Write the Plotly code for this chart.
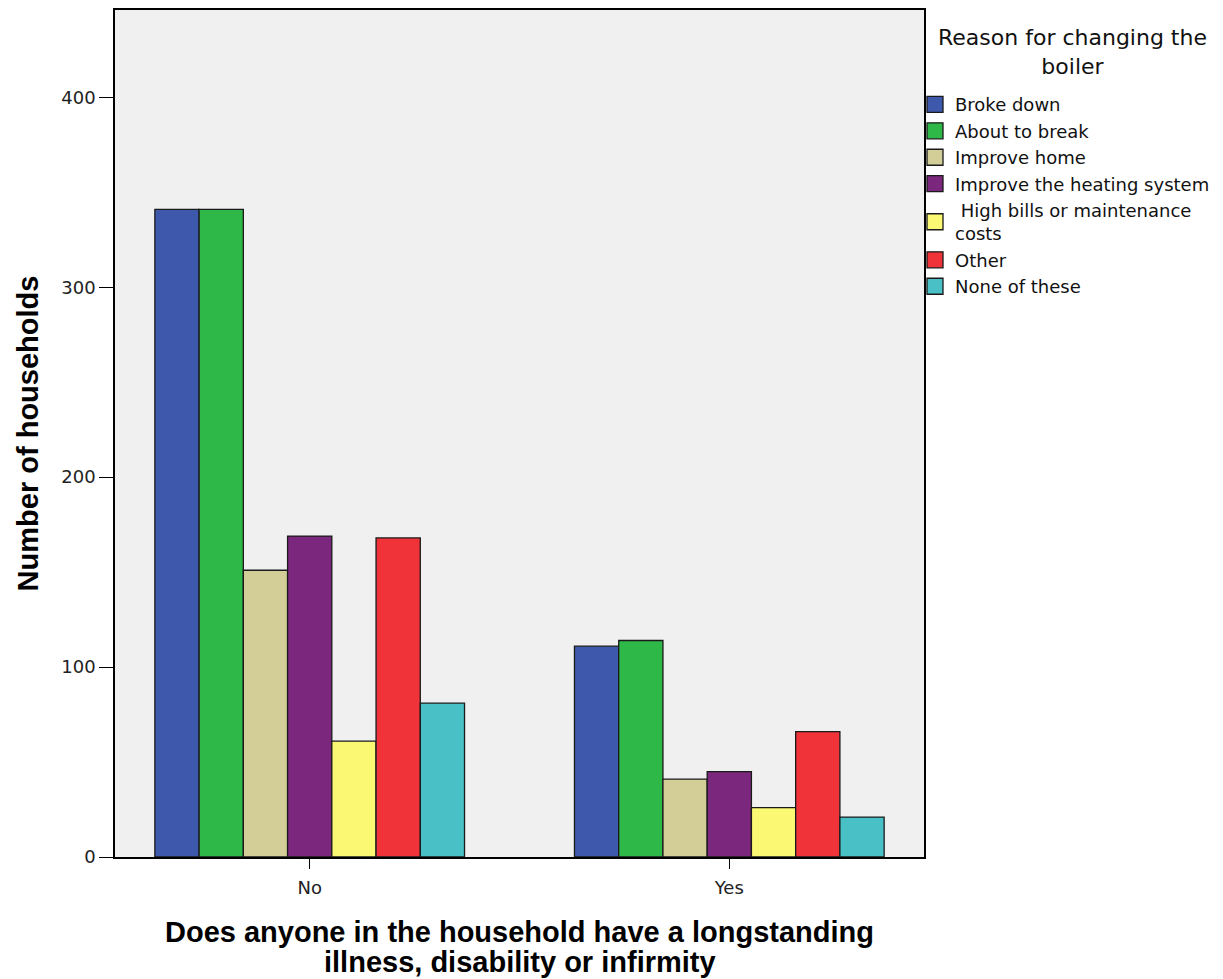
import plotly.graph_objects as go

categories = ["No", "Yes"]
series_names = ["Broke down", "About to break", "Improve home", "Improve the heating system",
                " High bills or maintenance<br>costs", "Other", "None of these"]
values_no = [341, 341, 151, 169, 61, 168, 81]
values_yes = [111, 114, 41, 45, 26, 66, 21]
colors = ["#3E58AC", "#2EB848", "#D3CE97", "#7B277D", "#FBF873", "#EF3338", "#48C0C5"]
y_ticks = [0, 100, 200, 300, 400]
legend_title = "Reason for changing the<br>boiler"
x_title_lines = ["Does anyone in the household have a longstanding", "illness, disability or infirmity"]
y_title = "Number of households"

fig = go.Figure()
for i, name in enumerate(series_names):
    fig.add_trace(go.Bar(
        x=categories, y=[values_no[i], values_yes[i]], name=name, showlegend=False,
        marker=dict(color=colors[i], line=dict(color="#1a1a1a", width=1.3)),
    ))
# legend entries (square swatches)
for i, name in enumerate(series_names):
    fig.add_trace(go.Scatter(
        x=[None], y=[None], mode="markers", name=name,
        marker=dict(symbol="square", size=16, color=colors[i], line=dict(color="#1a1a1a", width=1.3)),
    ))

fig.update_layout(
    width=1207, height=971,
    margin=dict(l=107, r=290, t=0, b=122),
    paper_bgcolor="white", plot_bgcolor="#F0F0F0",
    barmode="group", bargap=0.262, bargroupgap=0,
    font=dict(family="DejaVu Sans, Verdana, sans-serif", size=16, color="#222"),
    legend=dict(
        x=0.989, xanchor="left", y=0.910, yanchor="top",
        font=dict(size=18, color="#111"),
        tracegroupgap=0, itemwidth=30,
        bgcolor="rgba(0,0,0,0)",
    ),
    showlegend=True,
)
# legend title (centered over the legend)
fig.add_annotation(
    text=legend_title, xref="paper", yref="paper", x=1.184, y=0.951,
    xanchor="center", yanchor="middle", showarrow=False, align="center",
    font=dict(family="DejaVu Sans, Verdana, sans-serif", size=22, color="#111"),
)
# x axis title lines
fig.add_annotation(
    text=x_title_lines[0], xref="paper", yref="paper", x=0.5, y=-0.0883,
    xanchor="center", yanchor="middle", showarrow=False,
    font=dict(family="Liberation Sans, Arial, sans-serif", size=29, color="black", weight="bold"),
)
fig.add_annotation(
    text=x_title_lines[1], xref="paper", yref="paper", x=0.5, y=-0.1237,
    xanchor="center", yanchor="middle", showarrow=False,
    font=dict(family="Liberation Sans, Arial, sans-serif", size=29, color="black", weight="bold"),
)
fig.update_xaxes(
    range=[-0.464, 1.464], showline=True, linecolor="black", linewidth=1.5, mirror=True,
    ticks="outside", ticklen=10, tickcolor="black", tickfont=dict(size=18, color="#222"),
    ticklabelstandoff=4,
    showgrid=False,
)
fig.update_yaxes(
    range=[0, 446], tickvals=y_ticks, showline=True, linecolor="black", linewidth=1.5, mirror=True,
    ticks="outside", ticklen=14, tickcolor="black", tickfont=dict(size=18, color="#222"),
    title=dict(text=y_title,
               font=dict(family="Liberation Sans, Arial, sans-serif", size=29, color="black", weight="bold"),
               standoff=14),
    showgrid=False, zeroline=False,
)
fig.write_html("out.html")
